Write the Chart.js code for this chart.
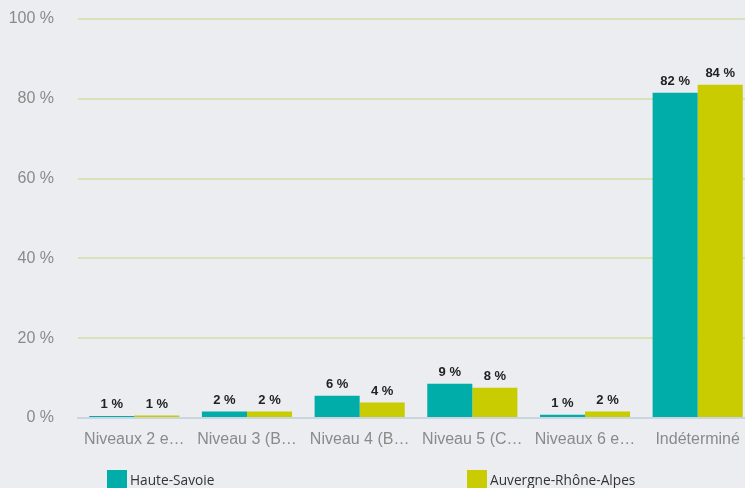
<!DOCTYPE html>
<html lang="fr">
<head>
<meta charset="utf-8">
<script src="https://cdn.jsdelivr.net/npm/chart.js@4"></script>
<style>
  html,body{margin:0;padding:0;background:#ecedf0;overflow:hidden}
  #wrap{position:relative;width:745px;height:488px;overflow:hidden}
  #chart{position:absolute;left:0;top:0}
  #legend{position:absolute;left:0;top:470px;width:745px;height:18px;font-family:"Open Sans",sans-serif;font-size:13.7px;color:#333}
  .leg{position:absolute;top:0;display:flex;align-items:center;height:18px}
  .leg i{display:inline-block;width:20px;height:18px;margin-right:3px}
</style>
</head>
<body>
<div id="wrap">
  <canvas id="chart" width="756" height="488"></canvas>
  <div id="legend"></div>
</div>
<script>
// --- data ---
const categories = ['Niveaux 2 e\u2026', 'Niveau 3 (B\u2026', 'Niveau 4 (B\u2026', 'Niveau 5 (C\u2026', 'Niveaux 6 e\u2026', 'Indéterminé'];
const hauteSavoie = [0.5, 1.6, 5.6, 8.6, 0.8, 81.5];
const auvergneRA  = [0.6, 1.6, 3.9, 7.6, 1.6, 83.5];
const seriesNames = ['Haute-Savoie', 'Auvergne-Rhône-Alpes'];
const seriesColors = ['#00ada8', '#c8cc00'];
const yTicks = [0, 20, 40, 60, 80, 100];

// labels above bars
const barLabels = {
  id:'barLabels',
  afterDatasetsDraw(chart){
    const ctx = chart.ctx;
    ctx.save();
    ctx.font = 'bold 13px "Liberation Sans", Arial, sans-serif';
    ctx.fillStyle = '#222';
    ctx.textAlign = 'center';
    ctx.textBaseline = 'bottom';
    chart.data.datasets.forEach((ds,i)=>{
      chart.getDatasetMeta(i).data.forEach((bar,j)=>{
        ctx.fillText(Math.round(ds.data[j]) + ' %', bar.x, bar.y - 5);
      });
    });
    ctx.restore();
  }
};

const tickFont = { family:'"Liberation Sans", Arial, sans-serif', size:16 };

new Chart(document.getElementById('chart'), {
  type:'bar',
  data:{
    labels:categories,
    datasets:[
      { label:seriesNames[0], data:hauteSavoie, backgroundColor:seriesColors[0] },
      { label:seriesNames[1], data:auvergneRA,  backgroundColor:seriesColors[1] }
    ]
  },
  options:{
    responsive:false,
    animation:false,
    layout:{ padding:{ top:19, right:2, bottom:40, left:0 } },
    datasets:{ bar:{ barPercentage:1, categoryPercentage:0.8 } },
    plugins:{ legend:{ display:false }, tooltip:{ enabled:false } },
    scales:{
      x:{
        grid:{ display:false, drawTicks:false },
        border:{ display:true, color:'#c9d5e1', width:2 },
        ticks:{ padding:12, color:'#8a8a8a', font:tickFont, maxRotation:0, autoSkip:false },
        afterFit(s){ s.height = 30; s.paddingLeft = 0; s.paddingRight = 0; }
      },
      y:{
        min:0, max:100,
        afterBuildTicks(s){ s.ticks = yTicks.map(v=>({ value:v })); },
        grid:{ color:'#d6e3b8', lineWidth:2, drawTicks:false },
        border:{ display:false },
        ticks:{ padding:24, color:'#8a8a8a', font:tickFont, callback:v=>v + ' %' },
        afterFit(s){ s.width = 78; s.paddingTop = 0; s.paddingBottom = 0; }
      }
    }
  },
  plugins:[barLabels]
});

// legend
const legend = document.getElementById('legend');
const legX = [107, 467];
seriesNames.forEach((n,i)=>{
  const d = document.createElement('div');
  d.className = 'leg';
  d.style.left = legX[i] + 'px';
  d.innerHTML = '<i style="background:' + seriesColors[i] + '"></i><span>' + n + '</span>';
  legend.appendChild(d);
});
</script>
</body>
</html>
